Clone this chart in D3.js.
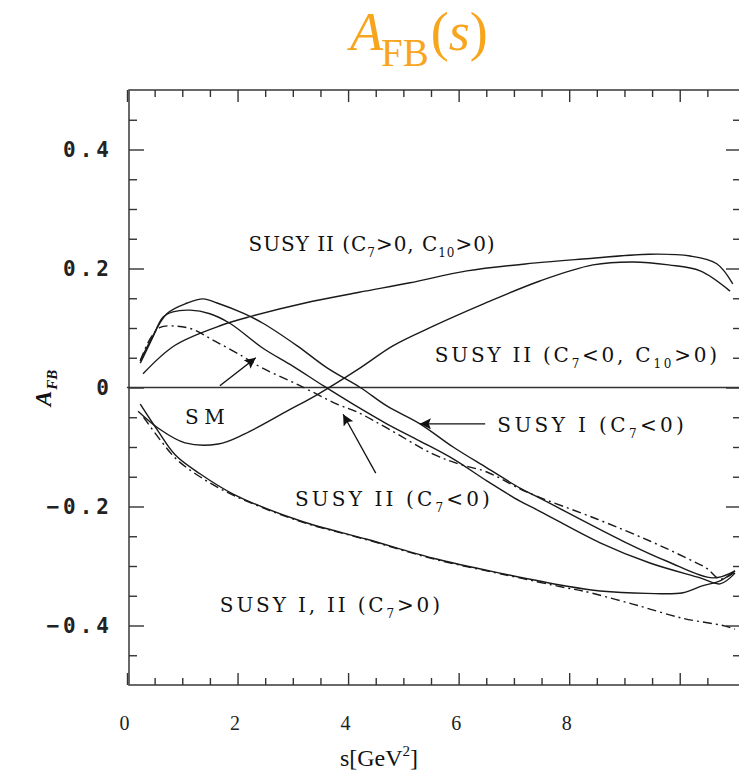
<!DOCTYPE html>
<html>
<head>
<meta charset="utf-8">
<script src="https://cdn.jsdelivr.net/npm/d3@7"></script>
<style>
  body { margin: 0; background: #fff; }
  svg text { fill: #111; }
</style>
</head>
<body>
<div id="chart"></div>
<script>
// curves as [s, A_FB] pairs
var susy2_c7pos_c10pos = [[0.29, 0.023], [0.87, 0.071], [1.72, 0.105], [2.26, 0.12], [3.22, 0.142], [4.2, 0.16], [5.12, 0.176],
    [6.15, 0.196], [7.35, 0.209], [8.25, 0.216], [9.46, 0.224], [10.19, 0.221], [10.67, 0.208], [10.96, 0.174]];
var susy2_c7neg_c10pos = [[0.2, -0.04], [0.56, -0.068], [1.05, -0.093], [1.65, -0.095], [2.13, -0.078], [2.91, -0.039],
    [3.46, -0.011], [4.22, 0.033], [4.81, 0.07], [5.54, 0.103], [6.44, 0.14], [7.47, 0.179], [8.43, 0.206],
    [9.15, 0.211], [9.8, 0.206], [10.37, 0.196], [10.91, 0.162]];
var susy1_c7neg = [[0.24, 0.045], [0.42, 0.078], [0.72, 0.124], [1.09, 0.142], [1.38, 0.149], [1.63, 0.142], [2.1, 0.125],
    [2.46, 0.108], [3.08, 0.07], [3.62, 0.033], [4.22, 0.0], [4.7, -0.031], [5.3, -0.061], [5.9, -0.1], [6.51, -0.135],
    [7.11, -0.169], [7.47, -0.186], [8.97, -0.258], [9.77, -0.292], [10.6, -0.32], [11.0, -0.308]];
var susy2_c7neg = [[0.24, 0.041], [0.45, 0.081], [0.65, 0.118], [0.83, 0.127], [1.14, 0.13], [1.5, 0.124], [1.86, 0.108],
    [2.46, 0.066], [3.0, 0.036], [3.55, 0.003], [4.09, -0.028], [4.7, -0.061], [5.3, -0.09], [5.9, -0.12], [6.51, -0.157],
    [7.11, -0.191], [7.47, -0.208], [8.56, -0.261], [9.46, -0.295], [10.37, -0.32], [10.73, -0.33], [11.0, -0.312]];
var sm = [[0.24, 0.045], [0.42, 0.082], [0.6, 0.101], [0.9, 0.103], [1.18, 0.098], [1.59, 0.078], [2.08, 0.053], [2.44, 0.033],
    [2.95, 0.011], [3.26, -0.003], [3.8, -0.028], [4.16, -0.041], [4.7, -0.068], [5.54, -0.112], [6.02, -0.129],
    [6.51, -0.142], [7.24, -0.176], [8.5, -0.221], [9.46, -0.258], [10.13, -0.287], [10.49, -0.304], [10.73, -0.322], [11.0, -0.31]];
var susy12_c7pos = [[0.24, -0.028], [0.56, -0.073], [0.87, -0.113], [1.32, -0.145], [1.92, -0.179], [3.13, -0.224],
    [4.34, -0.255], [5.54, -0.287], [6.75, -0.312], [7.96, -0.334], [8.56, -0.342], [9.4, -0.346], [10.06, -0.345],
    [10.42, -0.333], [10.73, -0.325], [11.0, -0.308]];
var susy12_c7pos_b = [[0.3, -0.05], [0.6, -0.088], [0.9, -0.121], [1.32, -0.15], [1.92, -0.181], [3.13, -0.225],
    [4.34, -0.256], [5.54, -0.288], [6.75, -0.313], [7.96, -0.337], [8.25, -0.342], [9.15, -0.364], [10.06, -0.388],
    [10.78, -0.4], [11.0, -0.406]];

var solid_curves = [susy2_c7pos_c10pos, susy2_c7neg_c10pos, susy1_c7neg, susy2_c7neg, susy12_c7pos];
var dashed_curves = [sm, susy12_c7pos_b];

var x_major = [0, 2, 4, 6, 8];
var y_major = [-0.4, -0.2, 0, 0.2, 0.4];

var W = 739, H = 771,
    LEFT = 127, RIGHT = 735, FRAME_RIGHT = 741, TOP = 90, BOTTOM = 685;

var x = d3.scaleLinear().domain([0, 11]).range([LEFT, RIGHT]);
var y = d3.scaleLinear().domain([-0.5, 0.5]).range([BOTTOM, TOP]);

var svg = d3.select("#chart").append("svg")
    .attr("width", W).attr("height", H);

// title
var title = svg.append("text")
    .attr("x", 350).attr("y", 50)
    .style("font-family", "Liberation Serif")
    .style("fill", "#f8a51e");
title.append("tspan").style("font-style", "italic").style("font-size", "54px").text("A");
title.append("tspan").style("font-size", "39px").attr("dy", 16).attr("dx", -2).text("FB");
title.append("tspan").style("font-size", "54px").attr("dy", -16).attr("dx", 2).text("(");
title.append("tspan").style("font-size", "54px").style("font-style", "italic").text("s");
title.append("tspan").style("font-size", "54px").text(")");

var plot = svg.append("g");

// frame
plot.append("rect")
    .attr("x", LEFT + 2).attr("y", TOP)
    .attr("width", FRAME_RIGHT - LEFT - 2).attr("height", BOTTOM - TOP)
    .attr("fill", "none").attr("stroke", "#444").attr("stroke-width", 1.6);

// ticks, pointing inward on all four sides
var x_minor = d3.range(0.5, 11, 0.5).filter(function(v){ return v % 2 !== 0; });
var y_minor = d3.range(-0.45, 0.5, 0.05).filter(function(v){ return Math.abs(Math.round(v * 100) % 20) !== 0; });

function style_axis(g){
    g.select(".domain").remove();
    g.selectAll(".tick line").attr("stroke", "#333").attr("stroke-width", 1.4);
}

plot.append("g").attr("transform", "translate(0," + BOTTOM + ")")
    .call(d3.axisBottom(x).tickValues(x_major).tickSize(-12).tickPadding(31).tickFormat(d3.format("d")))
    .call(style_axis)
    .selectAll("text").attr("dx", -3)
        .style("font-family", "Liberation Serif").style("font-size", "20px").style("fill", "#222");
plot.append("g").attr("transform", "translate(0," + BOTTOM + ")")
    .call(d3.axisBottom(x).tickValues(x_minor).tickSize(-7).tickFormat(""))
    .call(style_axis);
plot.append("g").attr("transform", "translate(0," + TOP + ")")
    .call(d3.axisTop(x).tickValues(x_major.concat([10])).tickSize(-12).tickFormat(""))
    .call(style_axis);
plot.append("g").attr("transform", "translate(0," + TOP + ")")
    .call(d3.axisTop(x).tickValues(x_minor).tickSize(-7).tickFormat(""))
    .call(style_axis);
plot.append("g").attr("transform", "translate(0," + BOTTOM + ")")
    .call(d3.axisBottom(x).tickValues([10]).tickSize(-12).tickFormat(""))
    .call(style_axis);

plot.append("g").attr("transform", "translate(" + (LEFT + 2) + ",0)")
    .call(d3.axisLeft(y).tickValues(y_major).tickSize(-15).tickPadding(16)
        .tickFormat(function(d){ return d === 0 ? "0" : d3.format(".1f")(d).replace("-", "\u2212"); }))
    .call(style_axis)
    .selectAll("text").style("font-family", "DejaVu Sans Mono").style("font-weight", "bold")
        .style("font-size", "21px").style("letter-spacing", "4px").style("fill", "#222");
plot.append("g").attr("transform", "translate(" + (LEFT + 2) + ",0)")
    .call(d3.axisLeft(y).tickValues(y_minor).tickSize(-8).tickFormat(""))
    .call(style_axis);
plot.append("g").attr("transform", "translate(" + FRAME_RIGHT + ",0)")
    .call(d3.axisRight(y).tickValues(y_major).tickSize(-15).tickFormat(""))
    .call(style_axis);
plot.append("g").attr("transform", "translate(" + FRAME_RIGHT + ",0)")
    .call(d3.axisRight(y).tickValues(y_minor).tickSize(-8).tickFormat(""))
    .call(style_axis);

// zero line
plot.append("line")
    .attr("x1", LEFT).attr("x2", FRAME_RIGHT)
    .attr("y1", y(0)).attr("y2", y(0))
    .attr("stroke", "#333").attr("stroke-width", 1.6);

// curves
var line = d3.line()
    .x(function(d){ return x(d[0]); })
    .y(function(d){ return y(d[1]); })
    .curve(d3.curveCatmullRom.alpha(0.5));

plot.selectAll("path.solid")
    .data(solid_curves).enter()
    .append("path").attr("class", "solid")
    .attr("d", line)
    .attr("fill", "none").attr("stroke", "#1a1a1a").attr("stroke-width", 1.4);

plot.selectAll("path.dashed")
    .data(dashed_curves).enter()
    .append("path").attr("class", "dashed")
    .attr("d", line)
    .attr("fill", "none").attr("stroke", "#1a1a1a").attr("stroke-width", 1.4)
    .attr("stroke-dasharray", "9,4,2,4");

// annotations
var arrows = [
    [[1.68, 0.003], [2.33, 0.05]],
    [[6.48, -0.061], [5.3, -0.061]],
    [[4.5, -0.144], [3.91, -0.045]]
];

svg.append("defs").append("marker")
    .attr("id", "head")
    .attr("viewBox", "0 0 10 10")
    .attr("refX", 10).attr("refY", 5)
    .attr("markerWidth", 19).attr("markerHeight", 11)
    .attr("markerUnits", "userSpaceOnUse")
    .attr("orient", "auto")
    .append("path").attr("d", "M0,0L10,5L0,10L2,5Z").attr("fill", "#111");

plot.selectAll("line.arrow")
    .data(arrows).enter()
    .append("line").attr("class", "arrow")
    .attr("x1", function(d){ return x(d[0][0]); })
    .attr("y1", function(d){ return y(d[0][1]); })
    .attr("x2", function(d){ return x(d[1][0]); })
    .attr("y2", function(d){ return y(d[1][1]); })
    .attr("stroke", "#111").attr("stroke-width", 1.3)
    .attr("marker-end", "url(#head)");

// label text, with the width it takes in the picture
var labels = [
    { s: 2.2, a: 0.229, width: 247, parts: [["SUSY II (C"], ["7", 1], [">0, C"], ["10", 1], [">0)"]] },
    { s: 5.57, a: 0.043, width: 285, parts: [["SUSY II (C"], ["7", 1], ["<0, C"], ["10", 1], [">0)"]] },
    { s: 6.7, a: -0.075, width: 190, parts: [["SUSY I (C"], ["7", 1], ["<0)"]] },
    { s: 3.04, a: -0.199, width: 198, parts: [["SUSY II (C"], ["7", 1], ["<0)"]] },
    { s: 1.68, a: -0.377, width: 223, parts: [["SUSY I, II (C"], ["7", 1], [">0)"]] },
    { s: 1.05, a: -0.061, width: 45, parts: [["SM"]] }
];

labels.forEach(function(l){
    var t = plot.append("text")
        .attr("x", x(l.s)).attr("y", y(l.a))
        .style("font-family", "DejaVu Serif")
        .style("font-size", "20px");
    var shifted = false, n = 0;
    l.parts.forEach(function(p){
        n += p[0].length;
        var ts = t.append("tspan").text(p[0]);
        if (p[1] && !shifted) { ts.attr("dy", 6).style("font-size", "12px"); shifted = true; }
        else if (!p[1] && shifted) { ts.attr("dy", -6); shifted = false; }
    });
    var len = t.node().getComputedTextLength();
    t.style("letter-spacing", ((l.width - len) / n) + "px");
});

// axis titles
var ytitle = svg.append("text")
    .attr("transform", "translate(51,388) rotate(-90)")
    .attr("text-anchor", "middle")
    .style("font-family", "Liberation Serif")
    .style("font-weight", "bold");
ytitle.append("tspan").style("font-style", "italic").style("font-size", "23px").text("A");
ytitle.append("tspan").style("font-style", "italic").style("font-size", "15px").attr("dy", 6).attr("dx", 1).text("FB");

var xtitle = svg.append("text")
    .attr("x", 379).attr("y", 766)
    .attr("text-anchor", "middle")
    .style("font-family", "Liberation Serif")
    .style("font-size", "24px");
xtitle.append("tspan").text("s[GeV");
xtitle.append("tspan").style("font-size", "15px").attr("dy", -10).text("2");
xtitle.append("tspan").attr("dy", 10).text("]");
</script>
</body>
</html>
